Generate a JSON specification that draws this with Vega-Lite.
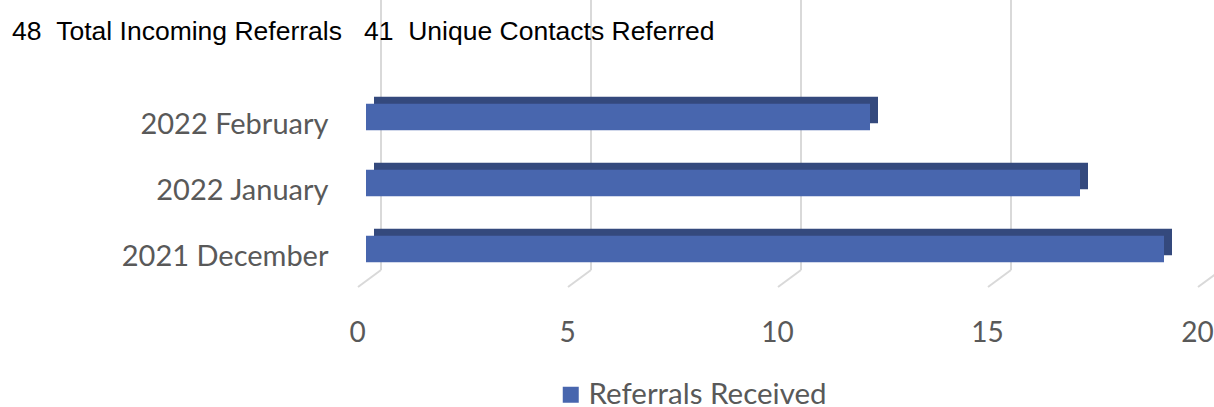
{
  "$schema": "https://vega.github.io/schema/vega-lite/v6.json",
  "width": 840,
  "height": 270,
  "autosize": {"type": "none"},
  "padding": {"left": 366, "top": 0, "right": 8, "bottom": 137},
  "background": "white",
  "config": {"view": {"stroke": null}},
  "title": {
    "text": "48\u00a0\u00a0Total Incoming Referrals\u00a0\u00a0\u00a041\u00a0\u00a0Unique Contacts Referred",
    "anchor": "start",
    "frame": "group",
    "orient": "top",
    "offset": 0,
    "dx": -354,
    "dy": 67,
    "baseline": "alphabetic",
    "font": "Liberation Sans",
    "fontSize": 26.5,
    "fontWeight": "normal",
    "color": "#000000"
  },
  "datasets": {
    "main": [
      {"month": "2022 February", "referrals": 12, "series": "Referrals Received"},
      {"month": "2022 January", "referrals": 17, "series": "Referrals Received"},
      {"month": "2021 December", "referrals": 19, "series": "Referrals Received"}
    ],
    "ticks": [{"v": 0}, {"v": 5}, {"v": 10}, {"v": 15}, {"v": 20}]
  },
  "layer": [
    {
      "data": {"name": "ticks"},
      "mark": {"type": "rule", "color": "#D9D9D9", "strokeWidth": 2, "xOffset": 15},
      "encoding": {
        "x": {
          "field": "v", "type": "quantitative", "scale": {"domain": [0, 20], "nice": false},
          "axis": {
            "values": [0, 5, 10, 15, 20], "title": null, "grid": false, "domain": false,
            "ticks": false, "tickSize": 0, "labelFont": "Lato", "labelFontSize": 28,
            "labelColor": "#595959", "labelOffset": -9, "labelPadding": 63,
            "labelBaseline": "middle", "labelFlush": false
          }
        }
      }
    },
    {
      "data": {"name": "ticks"},
      "mark": {"type": "rule", "color": "#D9D9D9", "strokeWidth": 2, "xOffset": 15, "x2Offset": -8},
      "encoding": {
        "x": {"field": "v", "type": "quantitative"},
        "x2": {"field": "v"},
        "y": {"value": 270},
        "y2": {"value": 287}
      }
    },
    {
      "data": {"name": "main"},
      "mark": {"type": "bar", "color": "#34497D", "xOffset": 8, "x2Offset": 4, "yOffset": -7},
      "encoding": {
        "x": {"field": "referrals", "type": "quantitative"},
        "y": {
          "field": "month", "type": "nominal",
          "sort": ["2022 February", "2022 January", "2021 December"],
          "scale": {"paddingInner": 0.6, "paddingOuter": 0.845, "align": 0.93},
          "axis": {
            "title": null, "domain": false, "ticks": false, "tickSize": 0,
            "labelFont": "Lato", "labelFontSize": 29, "labelColor": "#595959",
            "labelPadding": 38, "labelOffset": 8, "labelLimit": 400
          }
        }
      }
    },
    {
      "data": {"name": "main"},
      "mark": {"type": "bar"},
      "encoding": {
        "x": {"field": "referrals", "type": "quantitative"},
        "y": {
          "field": "month", "type": "nominal",
          "sort": ["2022 February", "2022 January", "2021 December"]
        },
        "color": {
          "field": "series", "type": "nominal",
          "scale": {"range": ["#4866AE"]},
          "legend": {
            "orient": "none", "legendX": 190, "legendY": 380, "title": null,
            "symbolType": "square", "symbolSize": 256, "symbolStrokeWidth": 0,
            "labelFont": "Lato", "labelFontSize": 29.5, "labelColor": "#595959",
            "labelOffset": 3, "labelLimit": 500
          }
        }
      }
    }
  ]
}
